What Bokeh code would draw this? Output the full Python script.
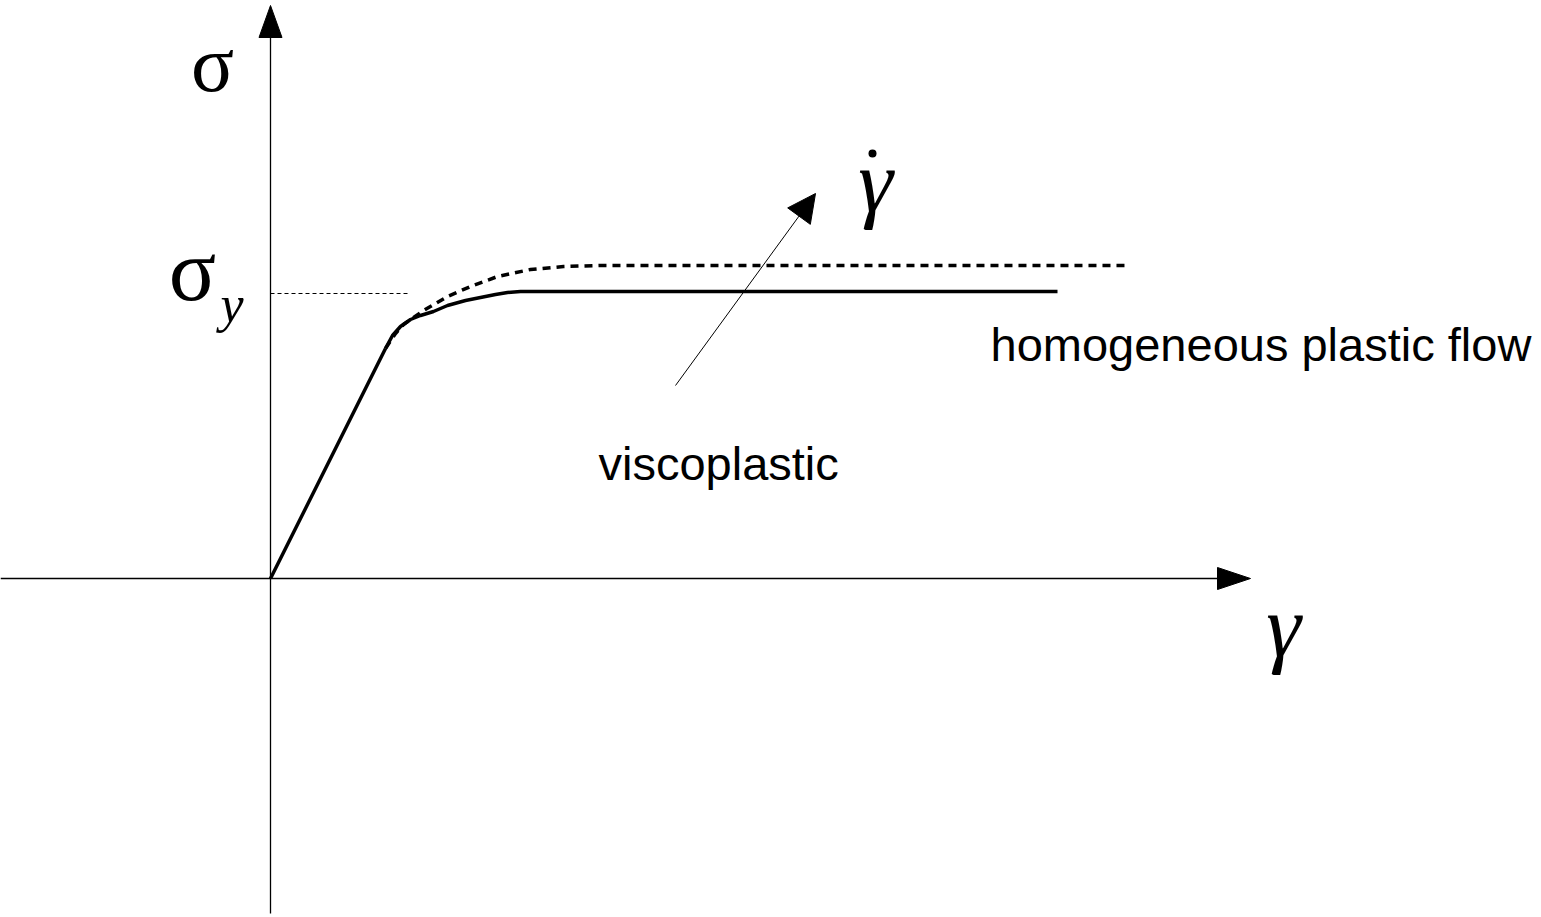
from bokeh.plotting import figure
from bokeh.models import Arrow, NormalHead, Range1d
from bokeh.core.properties import value
from bokeh.embed import file_html
from bokeh.resources import INLINE

# Stress-strain sketch, coordinates in drawing units (origin at the axes' crossing)
gamma_elastic = [0, 115]
sigma_elastic = [0, 230]

# low strain rate response (solid)
gamma_slow = [115, 122, 130, 140, 150, 163, 177, 195, 210, 225, 237, 250, 263, 787]
sigma_slow = [230, 243, 252, 259, 263, 267, 273, 278, 281, 284, 286, 287, 287, 287]

# high strain rate response (dashed)
gamma_fast = [115, 125, 133, 153, 177, 200, 227, 260, 293, 330, 857]
sigma_fast = [230, 245, 254, 268, 282, 292, 302, 309, 312, 313, 313]

sigma_yield = 285
yield_guide_end = 140

# direction of increasing strain rate
rate_arrow_start = (405, 193)
rate_arrow_end = (545, 385)

x_axis_extent = (-270, 980)
y_axis_extent = (-335, 573)

W, H = 1541, 917
p = figure(width=W, height=H, output_backend="svg", toolbar_location=None,
           x_range=Range1d(-270, 1271), y_range=Range1d(-339, 578),
           x_axis_type=None, y_axis_type=None, min_border=0)
p.outline_line_color = None
p.grid.visible = False
p.background_fill_color = "white"
p.border_fill_color = "white"

ink = "#000000"


def head(tip, direction, length, width):
    dx, dy = direction
    bx, by = tip[0] - dx * length, tip[1] - dy * length
    px, py = -dy * width / 2, dx * width / 2
    return [tip[0], bx + px, bx - px], [tip[1], by + py, by - py]


# axes
p.line([x_axis_extent[0], x_axis_extent[1] - 30], [0, 0], line_color=ink, line_width=1.3)
p.line([0, 0], [y_axis_extent[0], y_axis_extent[1] - 30], line_color=ink, line_width=1.3)
hx, hy = head((x_axis_extent[1], 0), (1, 0), 33, 22)
p.patch(hx, hy, fill_color=ink, line_color=ink)
vx, vy = head((0, y_axis_extent[1]), (0, 1), 32, 23)
p.patch(vx, vy, fill_color=ink, line_color=ink)

# yield stress guide
p.line([0, yield_guide_end], [sigma_yield, sigma_yield], line_color=ink,
       line_width=1, line_dash="4 3")

# curves
p.line(gamma_elastic, sigma_elastic, line_color=ink, line_width=3.5)
p.line(gamma_slow, sigma_slow, line_color=ink, line_width=3.5, line_join="round")
p.line(gamma_fast, sigma_fast, line_color=ink, line_width=3.5, line_dash="8 6")

# strain-rate arrow
p.add_layout(Arrow(x_start=rate_arrow_start[0], y_start=rate_arrow_start[1],
                   x_end=rate_arrow_end[0], y_end=rate_arrow_end[1],
                   line_color=ink, line_width=1,
                   end=NormalHead(size=28, fill_color=ink, line_color=ink)))

serif = value("Liberation Serif")
sans = value("Liberation Sans")

p.text(x=[-58], y=[515], text=["σ"], text_font=serif, text_font_size="80px",
       text_align="center", text_baseline="alphabetic", text_color=ink)
p.text(x=[-78], y=[308], text=["σ"], text_font=serif, text_font_size="88px",
       text_align="center", text_baseline="alphabetic", text_color=ink)
p.text(x=[-50], y=[274], text=["y"], text_font=serif, text_font_size="52px",
       text_font_style="italic", text_align="left", text_baseline="alphabetic",
       text_color=ink)
p.text(x=[605], y=[397], text=["γ"], text_font=serif, text_font_size="88px",
       text_font_style="italic", text_align="center", text_baseline="alphabetic",
       text_color=ink)
p.scatter(x=[602], y=[425], size=8, marker="circle", fill_color=ink, line_color=None)
p.text(x=[1013], y=[-48], text=["γ"], text_font=serif, text_font_size="88px",
       text_font_style="italic", text_align="center", text_baseline="alphabetic",
       text_color=ink)

p.text(x=[720], y=[234], text=["homogeneous plastic flow"], text_font=sans,
       text_font_size="47px", text_align="left", text_baseline="alphabetic",
       text_color=ink)
p.text(x=[328], y=[115], text=["viscoplastic"], text_font=sans,
       text_font_size="47px", text_align="left", text_baseline="alphabetic",
       text_color=ink)

open("out.html", "w").write(file_html(p, INLINE))
